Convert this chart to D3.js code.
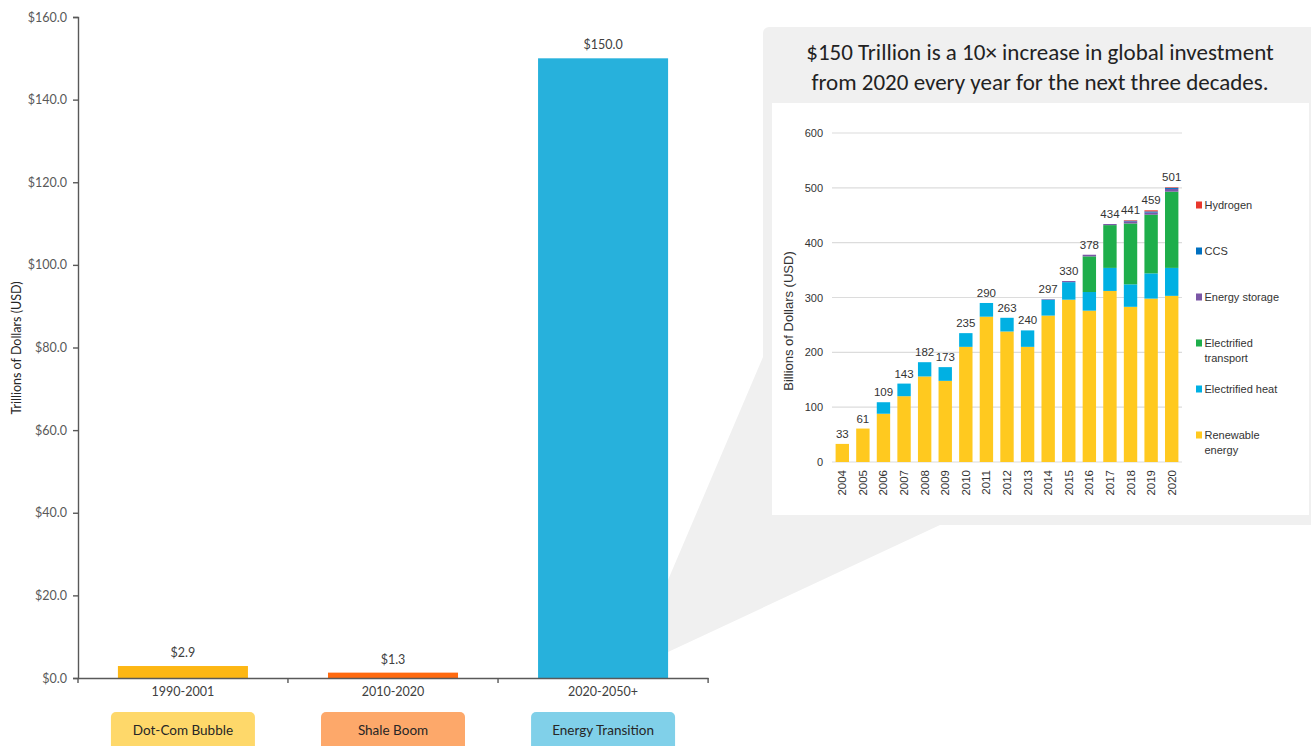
<!DOCTYPE html>
<html>
<head>
<meta charset="utf-8">
<script src="https://cdn.jsdelivr.net/npm/d3@7"></script>
<style>
  html, body { margin: 0; padding: 0; background: #ffffff; }
  svg { display: block; }
</style>
</head>
<body>
<svg id="chart" width="1311" height="746"></svg>
<script>
// ---- Main chart data: total investment per era (trillions USD) ----
const periods = ["1990-2001", "2010-2020", "2020-2050+"];
const eraNames = ["Dot-Com Bubble", "Shale Boom", "Energy Transition"];
const totals = [2.9, 1.3, 150.0];
const yTicks = [0, 20, 40, 60, 80, 100, 120, 140, 160];

// ---- Inset data: annual energy-transition investment (billions USD) ----
const years = ["2004","2005","2006","2007","2008","2009","2010","2011","2012",
               "2013","2014","2015","2016","2017","2018","2019","2020"];
const renewable = [33, 61, 88, 120, 156, 148, 210, 265, 238, 210, 267, 296, 276, 312, 283, 298, 303];
const heat      = [0, 0, 21, 23, 26, 25, 25, 25, 25, 30, 29, 32, 34, 42, 41, 46, 51];
const transport = [0, 0, 0, 0, 0, 0, 0, 0, 0, 0, 0, 0, 65, 78, 111, 107, 139];
const storage   = [0, 0, 0, 0, 0, 0, 0, 0, 0, 0, 1, 2, 3, 2, 4, 4, 5];
const ccs       = [0, 0, 0, 0, 0, 0, 0, 0, 0, 0, 0, 0, 0, 0, 1, 2, 2];
const hydrogen  = [0, 0, 0, 0, 0, 0, 0, 0, 0, 0, 0, 0, 0, 0, 1, 2, 1];
const insetTicks = [0, 100, 200, 300, 400, 500, 600];

const svg = d3.select("#chart");
const mainFont = "Lato, 'Open Sans', sans-serif";
const insetFont = "'Liberation Sans', Arial, sans-serif";

// ================= Callout panel and connector wedge =================
const panel = { x0: 763, y0: 27, x1: 1311, y1: 525 };
const inner = { x0: 772, y0: 103, x1: 1309, y1: 515 };
const grey = "#f0f0f0";

svg.append("path")
  .attr("d", d3.line()([[668, 580], [763, 357], [763, panel.y1], [940, panel.y1], [668, 652]]))
  .attr("fill", grey);

// panel with a rounded top-left corner only
const r = 6;
const pp = d3.path();
pp.moveTo(panel.x0, panel.y1);
pp.lineTo(panel.x0, panel.y0 + r);
pp.arcTo(panel.x0, panel.y0, panel.x0 + r, panel.y0, r);
pp.lineTo(panel.x1 + 10, panel.y0);
pp.lineTo(panel.x1 + 10, panel.y1);
pp.closePath();
svg.append("path").attr("d", pp.toString()).attr("fill", grey);

svg.append("rect")
  .attr("x", inner.x0).attr("y", inner.y0)
  .attr("width", inner.x1 - inner.x0).attr("height", inner.y1 - inner.y0)
  .attr("fill", "#ffffff");

const title = svg.append("text")
  .attr("x", 1040).attr("text-anchor", "middle")
  .attr("font-family", "Calibri, Carlito, Lato, sans-serif")
  .attr("font-size", 23).attr("fill", "#222");
title.append("tspan").attr("x", 1040).attr("y", 60)
  .text("$150 Trillion is a 10× increase in global investment");
title.append("tspan").attr("x", 1040).attr("y", 90)
  .text("from 2020 every year for the next three decades.");

// ================= Main bar chart =================
const x = d3.scaleBand().domain(periods).range([78, 708])
  .paddingInner(0.381).paddingOuter(0.19);
const y = d3.scaleLinear().domain([0, 160]).range([678, 17]);
const barColors = ["#fdb714", "#ff6a10", "#27b1dc"];
const pillColors = ["#fed86a", "#fda86a", "#80d0e9"];
const axisColor = "#595959";

const main = svg.append("g");

main.selectAll("rect.bar").data(periods).join("rect")
  .attr("class", "bar")
  .attr("x", d => x(d))
  .attr("width", x.bandwidth())
  .attr("y", (d, i) => y(totals[i]))
  .attr("height", (d, i) => y(0) - y(totals[i]))
  .attr("fill", (d, i) => barColors[i]);

main.selectAll("text.val").data(periods).join("text")
  .attr("class", "val")
  .attr("x", d => x(d) + x.bandwidth() / 2)
  .attr("y", (d, i) => y(totals[i]) - 9)
  .attr("text-anchor", "middle")
  .attr("font-family", mainFont).attr("font-size", 12.5).attr("fill", "#404040")
  .text((d, i) => "$" + totals[i].toFixed(1));

// y axis
const yAxis = main.append("g").attr("transform", "translate(78,0)")
  .call(d3.axisLeft(y).tickValues(yTicks).tickSize(5).tickPadding(6)
    .tickFormat(d => "$" + d.toFixed(1)));
yAxis.select(".domain").attr("stroke", axisColor).attr("stroke-width", 1.4);
yAxis.selectAll(".tick line").attr("stroke", axisColor).attr("stroke-width", 1.4);
yAxis.selectAll(".tick text").attr("font-family", mainFont).attr("font-size", 12.5).attr("fill", "#595959");

// x axis with ticks between categories
const xAxis = main.append("g").attr("transform", `translate(0,${y(0)})`)
  .call(d3.axisBottom(x).tickSize(0).tickPadding(9));
xAxis.select(".domain").attr("stroke", axisColor).attr("stroke-width", 1.4);
xAxis.selectAll(".tick text").attr("font-family", mainFont).attr("font-size", 12.5).attr("fill", "#404040");
const step = x.step();
const boundaries = [78].concat(periods.map(p => x(p) + x.bandwidth() + (step - x.bandwidth()) / 2));
xAxis.selectAll("line.sep").data(boundaries).join("line")
  .attr("class", "sep")
  .attr("x1", d => d).attr("x2", d => d).attr("y1", 0).attr("y2", 5)
  .attr("stroke", axisColor).attr("stroke-width", 1.4);

main.append("text")
  .attr("transform", "translate(21,348) rotate(-90)")
  .attr("text-anchor", "middle")
  .attr("font-family", mainFont).attr("font-size", 12.5).attr("fill", "#262626")
  .text("Trillions of Dollars (USD)");

// era name badges under the axis
const pillW = 144, pillH = 40;
const pills = main.selectAll("g.pill").data(periods).join("g")
  .attr("class", "pill")
  .attr("transform", d => `translate(${x(d) + x.bandwidth() / 2},712)`);
pills.append("rect")
  .attr("x", -pillW / 2).attr("y", 0).attr("width", pillW).attr("height", pillH)
  .attr("rx", 5).attr("fill", (d, i) => pillColors[i]);
pills.append("text")
  .attr("y", 23).attr("text-anchor", "middle")
  .attr("font-family", mainFont).attr("font-size", 13.5).attr("fill", "#262626")
  .text((d, i) => eraNames[i]);

// ================= Inset stacked bar chart =================
const keys = ["Renewable energy", "Electrified heat", "Electrified transport", "Energy storage", "CCS", "Hydrogen"];
const seriesArrays = [renewable, heat, transport, storage, ccs, hydrogen];
const insetColors = ["#ffc91f", "#00b0e3", "#1eae4b", "#7b57a6", "#0070c0", "#e8382d"];
const rows = years.map((yr, i) => {
  const row = { year: yr };
  keys.forEach((k, j) => { row[k] = seriesArrays[j][i]; });
  return row;
});
const stacked = d3.stack().keys(keys)(rows);

const xi = d3.scaleBand().domain(years).range([832, 1182])
  .paddingInner(0.35).paddingOuter(0.175);
const yi = d3.scaleLinear().domain([0, 600]).range([462, 133]);
const inset = svg.append("g");

inset.selectAll("line.grid").data(insetTicks).join("line")
  .attr("class", "grid")
  .attr("x1", 832).attr("x2", 1182)
  .attr("y1", d => yi(d)).attr("y2", d => yi(d))
  .attr("stroke", "#dcdcdc").attr("stroke-width", 1.2);

inset.selectAll("text.ytick").data(insetTicks).join("text")
  .attr("class", "ytick")
  .attr("x", 823).attr("y", d => yi(d) + 4)
  .attr("text-anchor", "end")
  .attr("font-family", insetFont).attr("font-size", 11).attr("fill", "#333")
  .text(d => d);

inset.selectAll("g.layer").data(stacked).join("g")
  .attr("class", "layer")
  .attr("fill", (d, i) => insetColors[i])
  .selectAll("rect").data(d => d).join("rect")
  .attr("x", d => xi(d.data.year))
  .attr("width", xi.bandwidth())
  .attr("y", d => yi(d[1]))
  .attr("height", d => yi(d[0]) - yi(d[1]));

const sums = rows.map(row => d3.sum(keys, k => row[k]));
inset.selectAll("text.total").data(years).join("text")
  .attr("class", "total")
  .attr("x", d => xi(d) + xi.bandwidth() / 2)
  .attr("y", (d, i) => yi(sums[i]) - 6)
  .attr("text-anchor", "middle")
  .attr("font-family", insetFont).attr("font-size", 11.5).attr("fill", "#333")
  .text((d, i) => sums[i]);

inset.selectAll("text.year").data(years).join("text")
  .attr("class", "year")
  .attr("transform", d => `translate(${xi(d) + xi.bandwidth() / 2 + 4},470) rotate(-90)`)
  .attr("text-anchor", "end")
  .attr("font-family", insetFont).attr("font-size", 11.5).attr("fill", "#333")
  .text(d => d);

inset.append("text")
  .attr("transform", "translate(793,321) rotate(-90)")
  .attr("text-anchor", "middle")
  .attr("font-family", insetFont).attr("font-size", 13).attr("fill", "#333")
  .text("Billions of Dollars (USD)");

// legend, top entry = top of stack
const legendItems = [
  { label: ["Hydrogen"], color: insetColors[5] },
  { label: ["CCS"], color: insetColors[4] },
  { label: ["Energy storage"], color: insetColors[3] },
  { label: ["Electrified", "transport"], color: insetColors[2] },
  { label: ["Electrified heat"], color: insetColors[1] },
  { label: ["Renewable", "energy"], color: insetColors[0] }
];
const lg = inset.selectAll("g.legend").data(legendItems).join("g")
  .attr("class", "legend")
  .attr("transform", (d, i) => `translate(1196,${205 + i * 46})`);
lg.append("rect").attr("x", 0).attr("y", -3.5).attr("width", 6).attr("height", 7)
  .attr("fill", d => d.color);
lg.append("text")
  .attr("font-family", insetFont).attr("font-size", 11).attr("fill", "#333")
  .selectAll("tspan").data(d => d.label).join("tspan")
  .attr("x", 8.5).attr("y", (d, i) => 4 + i * 14.5)
  .text(d => d);
</script>
</body>
</html>
